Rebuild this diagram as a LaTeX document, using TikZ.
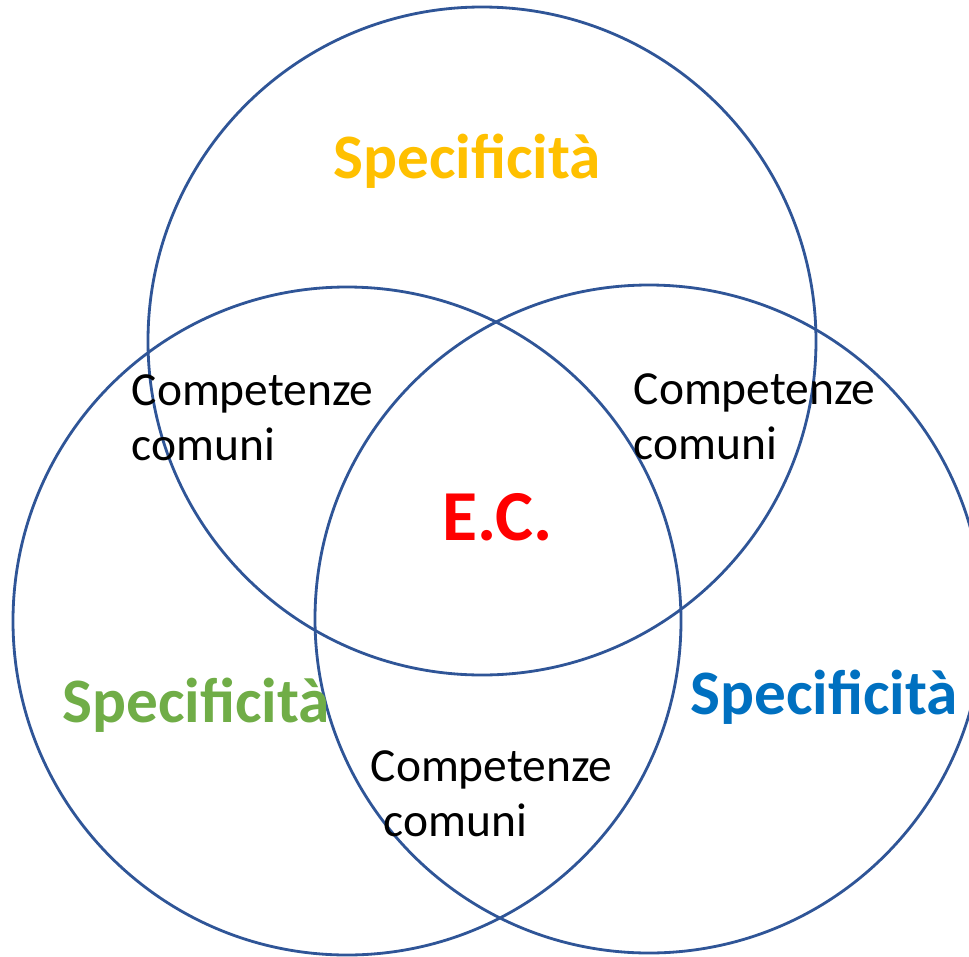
\documentclass[tikz,border=0pt]{standalone}
\usepackage{fontspec}
\setmainfont{Carlito}
\definecolor{ringblue}{HTML}{2F5597}
\definecolor{specyellow}{HTML}{FFC000}
\definecolor{specgreen}{HTML}{70AD47}
\definecolor{specblue}{HTML}{0070C0}
\definecolor{ecred}{HTML}{FF0000}
\begin{document}
\begin{tikzpicture}[x=0.01cm, y=-0.01cm,
  ring/.style={draw=ringblue, line width=0.8pt},
  spec/.style={anchor=base, inner sep=0pt, font=\fontsize{18}{22}\selectfont\bfseries},
  common/.style={anchor=base west, inner sep=0pt, align=left, font=\fontsize{13.5}{15.4}\selectfont}]
\useasboundingbox (0,0) rectangle (969,957);
\clip (0,0) rectangle (969,957);

% the three circles
\draw[ring] (482,341) circle (334);
\draw[ring] (347,621) circle (334);
\draw[ring] (649,619) circle (334);

% specific areas
\node[spec, text=specyellow] (specTop) at (467,178) {Specificità};
\node[spec, text=specgreen] (specLeft) at (196,722) {Specificità};
\node[spec, text=specblue] (specRight) at (824,714) {Specificità};

% common areas (base = last line)
\node[common] (commonLeft) at (131,460) {Competenze\\comuni};
\node[common] (commonRight) at (633,459) {Competenze\\comuni};
\node[common] (commonBottom) at (370,836) {Competenze\\\hspace*{0.13cm}comuni};

% centre
\node[anchor=base, inner sep=0pt, text=ecred, font=\fontsize{20.4}{24}\selectfont\bfseries] (ec) at (498,540) {E.C.};
\end{tikzpicture}
\end{document}
